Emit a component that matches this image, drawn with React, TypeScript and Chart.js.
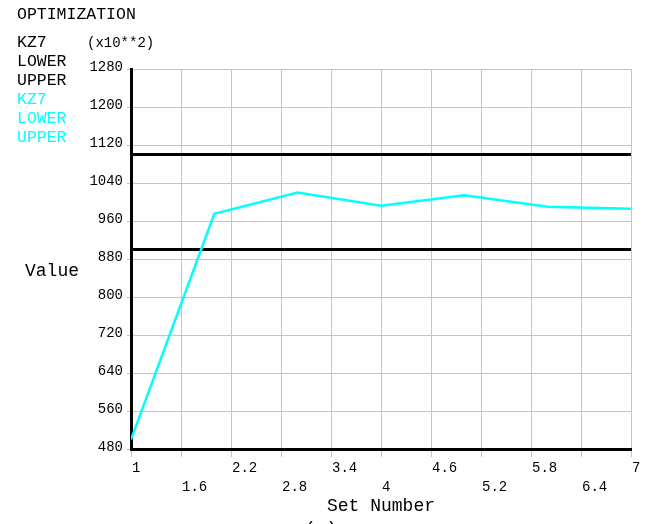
import React, { useEffect, useRef } from "react";
import { Chart, registerables } from "chart.js";

Chart.register(...registerables);

// Design set numbers and the KZ7 response at each set (x10**2)
const setNumbers = [1, 2, 3, 4, 5, 6, 7];
const kz7Values = [500, 975, 1020, 992, 1014, 990, 986];

// Constraint limits
const lowerLimit = 900;
const upperLimit = 1100;

// Axis tick labels
const xTickLabels = ["1", "1.6", "2.2", "2.8", "3.4", "4", "4.6", "5.2", "5.8", "6.4", "7"];
const yTickLabels = ["480", "560", "640", "720", "800", "880", "960", "1040", "1120", "1200", "1280"];

const legendNames = ["KZ7", "LOWER", "UPPER"];

const FONT = "'Liberation Mono', 'Courier New', monospace";
const CYAN = "#00ffff";

const textPlugin = {
  id: "optimizationText",
  afterDraw(chart: Chart) {
    const ctx = chart.ctx;
    ctx.save();
    ctx.textBaseline = "middle";
    ctx.textAlign = "left";

    ctx.font = `16.5px ${FONT}`;
    ctx.fillStyle = "#000";
    ctx.fillText("OPTIMIZATION", 17, 15);

    legendNames.forEach((name, i) => {
      ctx.fillStyle = "#000";
      ctx.fillText(name, 17, 43 + i * 19);
      ctx.fillStyle = CYAN;
      ctx.fillText(name, 17, 43 + (i + 3) * 19);
    });

    ctx.fillStyle = "#000";
    ctx.font = `14px ${FONT}`;
    ctx.fillText("(x10**2)", 87, 43);

    ctx.font = `18px ${FONT}`;
    ctx.fillText("Value", 25, 271);

    const area = chart.chartArea;
    ctx.textAlign = "center";
    ctx.fillText("Set Number", (area.left + area.right) / 2, 506);
    ctx.fillText("(c)", 321, 529);
    ctx.restore();
  },
};

export default function App() {
  const canvasRef = useRef<HTMLCanvasElement | null>(null);

  useEffect(() => {
    const canvas = canvasRef.current;
    if (!canvas) return;

    const first = setNumbers[0];
    const last = setNumbers[setNumbers.length - 1];

    const chart = new Chart(canvas, {
      type: "line",
      data: {
        datasets: [
          {
            label: "UPPER",
            data: [
              { x: first, y: upperLimit },
              { x: last, y: upperLimit },
            ],
            borderColor: "#000",
            borderWidth: 3,
            pointRadius: 0,
            order: 2,
          },
          {
            label: "LOWER",
            data: [
              { x: first, y: lowerLimit },
              { x: last, y: lowerLimit },
            ],
            borderColor: "#000",
            borderWidth: 3,
            pointRadius: 0,
            order: 2,
          },
          {
            label: "KZ7",
            data: setNumbers.map((x, i) => ({ x, y: kz7Values[i] })),
            borderColor: CYAN,
            borderWidth: 2.5,
            pointRadius: 0,
            tension: 0,
            order: 1,
          },
        ],
      },
      options: {
        responsive: false,
        animation: false,
        devicePixelRatio: 1,
        layout: { padding: { top: 69, right: 20, left: 0, bottom: 0 } },
        plugins: {
          legend: { display: false },
          tooltip: { enabled: false },
        },
        scales: {
          x: {
            type: "linear",
            min: 1,
            max: 7,
            afterFit(scale: any) {
              scale.height = 75;
            },
            ticks: {
              stepSize: 0.6,
              autoSkip: false,
              maxRotation: 0,
              minRotation: 0,
              align: "start",
              padding: 2,
              labelOffset: 1,
              color: "#000",
              font: { family: FONT, size: 14, lineHeight: "19px" },
              callback: (_v: any, i: number) =>
                i % 2 === 0 ? [xTickLabels[i]] : ["", xTickLabels[i]],
            },
            grid: {
              color: "#c4c4c4",
              lineWidth: 1,
              tickLength: 8,
              drawTicks: true,
            },
            border: { color: "#000", width: 3 },
          },
          y: {
            type: "linear",
            min: 480,
            max: 1280,
            afterFit(scale: any) {
              scale.width = 131;
            },
            ticks: {
              stepSize: 80,
              autoSkip: false,
              padding: 4,
              labelOffset: -2,
              color: "#000",
              font: { family: FONT, size: 14 },
              callback: (_v: any, i: number) => yTickLabels[i],
            },
            grid: {
              color: "#c4c4c4",
              lineWidth: 1,
              tickLength: 4,
            },
            border: { color: "#000", width: 3 },
          },
        },
      },
      plugins: [textPlugin],
    });

    return () => chart.destroy();
  }, []);

  return (
    <div
      style={{
        position: "absolute",
        left: 0,
        top: 0,
        width: 651,
        height: 524,
        background: "#fff",
      }}
    >
      <canvas ref={canvasRef} width={651} height={524} />
    </div>
  );
}
